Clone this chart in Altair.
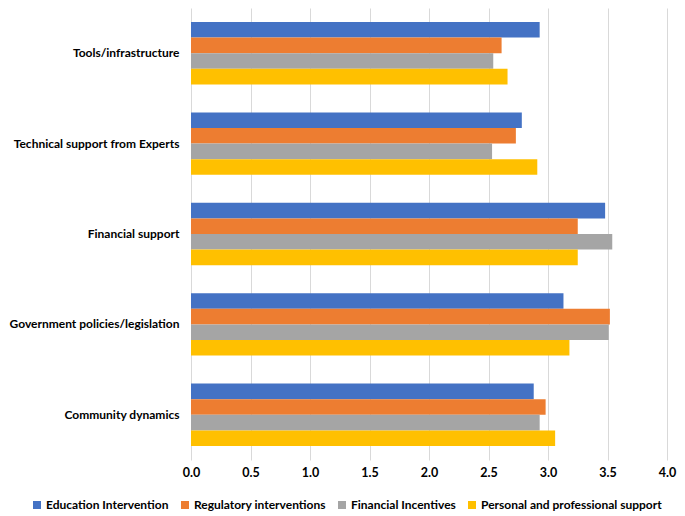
import altair as alt
import pandas as pd

categories = ["Tools/infrastructure", "Technical support from Experts", "Financial support",
              "Government policies/legislation", "Community dynamics"]
series = ["Education Intervention", "Regulatory interventions", "Financial Incentives",
          "Personal and professional support"]
edu = [2.93, 2.78, 3.48, 3.13, 2.88]
reg = [2.61, 2.73, 3.25, 3.52, 2.98]
fin = [2.54, 2.53, 3.54, 3.51, 2.93]
pers = [2.66, 2.91, 3.25, 3.18, 3.06]
colors = ["#4472C4", "#ED7D31", "#A5A5A5", "#FFC000"]
x_ticks = [0, 0.5, 1, 1.5, 2, 2.5, 3, 3.5, 4]

rows = []
for vals, s in zip([edu, reg, fin, pers], series):
    for c, v in zip(categories, vals):
        rows.append({"category": c, "series": s, "value": v})
df = pd.DataFrame(rows)

FONT = "Lato"

chart = alt.Chart(df).mark_bar().encode(
    y=alt.Y("category:N", sort=categories, title=None,
            scale=alt.Scale(paddingInner=0.31, paddingOuter=0.155),
            axis=alt.Axis(domain=False, ticks=False, labelFont=FONT, labelFontSize=12,
                          labelFontWeight="bold", labelColor="#000000", labelPadding=12,
                          labelLimit=200)),
    yOffset=alt.YOffset("series:N", sort=series, scale=alt.Scale(paddingInner=0, paddingOuter=0)),
    x=alt.X("value:Q", title=None, scale=alt.Scale(domain=[0, 4], nice=False),
            axis=alt.Axis(values=x_ticks, format=".1f", domain=False, ticks=False,
                          grid=True, gridColor="#d9d9d9", labelFont=FONT, labelFontSize=12.5,
                          labelFontWeight="bold", labelColor="#000000", labelPadding=6,
                          labelFlush=False)),
    color=alt.Color("series:N", sort=series,
                    scale=alt.Scale(domain=series, range=colors),
                    legend=alt.Legend(title=None, orient="none", legendX=-160, legendY=491,
                                      direction="horizontal", columns=4, symbolType="square",
                                      symbolSize=64, symbolStrokeWidth=0, labelFont=FONT,
                                      labelFontSize=12, labelFontWeight="bold",
                                      labelColor="#000000", columnPadding=10, labelOffset=3,
                                      labelLimit=300)),
).properties(
    width=476, height=452,
    autosize=alt.AutoSizeParams(type="none"),
    padding={"left": 183, "top": 0, "right": 10, "bottom": 56},
).configure_view(stroke=None)

chart.save("out.html", embed_options={"renderer": "svg", "actions": False})
